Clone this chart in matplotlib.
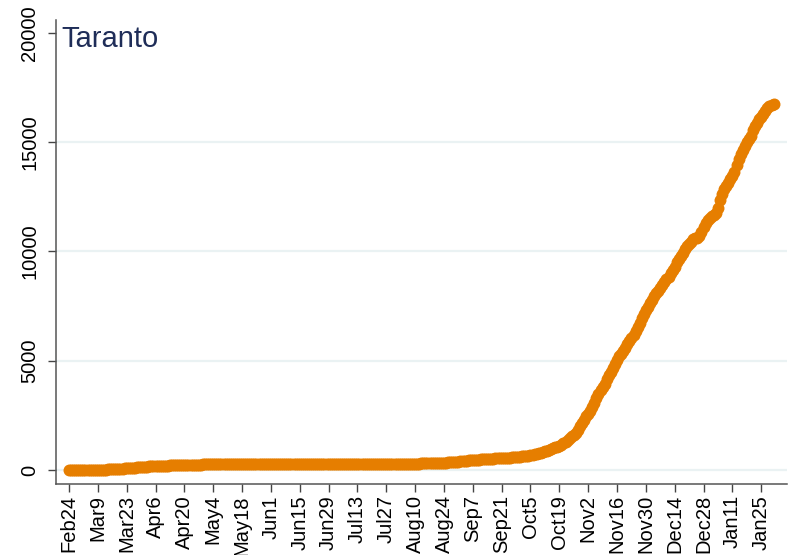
import numpy as np
import pandas as pd
import matplotlib
matplotlib.use('Agg')
import matplotlib.pyplot as plt

# cumulative cases, Taranto, one row per week (Mon..Sun) from 24 Feb 2020
cases = [
    0, 0, 0, 0, 0, 0, 0,
    0, 0, 1, 1, 2, 3, 5,
    7, 9, 12, 15, 19, 24, 30,
    36, 42, 48, 55, 62, 68, 74,
    80, 88, 96, 104, 112, 120, 128,
    135, 142, 148, 154, 160, 165, 170,
    174, 180, 186, 192, 197, 201, 205,
    208, 212, 216, 220, 223, 226, 229,
    232, 235, 238, 241, 243, 245, 247,
    249, 251, 253, 255, 256, 258, 259,
    260, 261, 262, 263, 264, 265, 266,
    266, 267, 267, 268, 268, 269, 269,
    270, 270, 270, 271, 271, 271, 272,
    272, 272, 272, 273, 273, 273, 273,
    273, 274, 274, 274, 274, 274, 274,
    275, 275, 275, 275, 275, 275, 275,
    275, 276, 276, 276, 276, 276, 276,
    276, 276, 277, 277, 277, 277, 277,
    277, 277, 277, 277, 278, 278, 278,
    278, 278, 278, 278, 279, 279, 279,
    279, 279, 280, 280, 280, 280, 281,
    281, 281, 281, 282, 282, 283, 283,
    283, 284, 284, 285, 285, 286, 286,
    287, 287, 288, 289, 290, 291, 292,
    293, 295, 297, 299, 301, 303, 305,
    308, 311, 314, 318, 322, 326, 330,
    334, 340, 347, 354, 362, 370, 378,
    386, 395, 405, 415, 425, 436, 446,
    455, 464, 472, 480, 488, 495, 502,
    508, 514, 520, 526, 532, 538, 543,
    548, 553, 559, 565, 571, 577, 583,
    590, 598, 607, 618, 630, 645, 662,
    680, 700, 722, 746, 772, 798, 825,
    852, 880, 912, 948, 988, 1030, 1075,
    1115, 1165, 1225, 1300, 1385, 1465, 1540,
    1600, 1700, 1850, 2000, 2150, 2300, 2450,
    2560, 2700, 2880, 3060, 3280, 3480, 3640,
    3800, 3950, 4150, 4350, 4480, 4650, 4850,
    5050, 5200, 5330, 5450, 5600, 5780, 5900,
    6050, 6200, 6380, 6550, 6750, 6950, 7120,
    7300, 7480, 7640, 7800, 7980, 8100, 8200,
    8320, 8450, 8600, 8720, 8850, 9000, 9150,
    9300, 9500, 9650, 9800, 9950, 10100, 10250,
    10350, 10450, 10550, 10600, 10620, 10700, 10900,
    11100, 11300, 11450, 11550, 11620, 11680, 11760,
    12000, 12350, 12650, 12850, 13000, 13150, 13300,
    13450, 13650, 13950, 14250, 14450, 14650, 14850,
    15000, 15150, 15300, 15550, 15750, 15900, 16050,
    16150, 16300, 16450, 16580, 16680, 16720, 16750,
]
start = pd.Timestamp('2020-02-24')
dates = pd.date_range(start, periods=len(cases), freq='D')

tick_labels = ['Feb24', 'Mar9', 'Mar23', 'Apr6', 'Apr20', 'May4', 'May18',
               'Jun1', 'Jun15', 'Jun29', 'Jul13', 'Jul27', 'Aug10', 'Aug24',
               'Sep7', 'Sep21', 'Oct5', 'Oct19', 'Nov2', 'Nov16', 'Nov30',
               'Dec14', 'Dec28', 'Jan11', 'Jan25']
tick_dates = pd.date_range(start, periods=len(tick_labels), freq='14D')
y_ticks = [0, 5000, 10000, 15000, 20000]

plt.rcParams['font.family'] = ['Liberation Sans', 'DejaVu Sans']

fig = plt.figure(figsize=(7.99, 5.55), dpi=100)
ax = fig.add_axes([56/799, 1-484/555, (787-56)/799, (484-20)/555])

for yv in y_ticks[:-1]:
    ax.axhline(yv, color='#eaf2f3', lw=1.6, zorder=0)

ax.plot(dates, cases, 'o', color='#e67e00', markersize=8.6, markeredgewidth=0, zorder=2)

ax.set_xlim(start - pd.Timedelta(days=6.3), start + pd.Timedelta(days=348.5))
ax.set_ylim(-641, 20595)

ax.set_xticks(tick_dates)
ax.set_xticklabels(tick_labels, rotation=90, fontsize=14.5)
ax.set_yticks(y_ticks)
ax.set_yticklabels([str(v) for v in y_ticks], rotation=90, va='center', fontsize=14.5)

ax.tick_params(axis='both', length=6, width=1, color='#444444')
ax.tick_params(axis='x', pad=2)
ax.tick_params(axis='y', pad=6)

for s in ['top', 'right']:
    ax.spines[s].set_visible(False)
for s in ['left', 'bottom']:
    ax.spines[s].set_color('#555555')
    ax.spines[s].set_linewidth(1.1)

fig.text(61/799, 1-47/555, 'Taranto', fontsize=21, color='#1f2d58', va='baseline', ha='left')

fig.savefig('out.png', dpi=100)
